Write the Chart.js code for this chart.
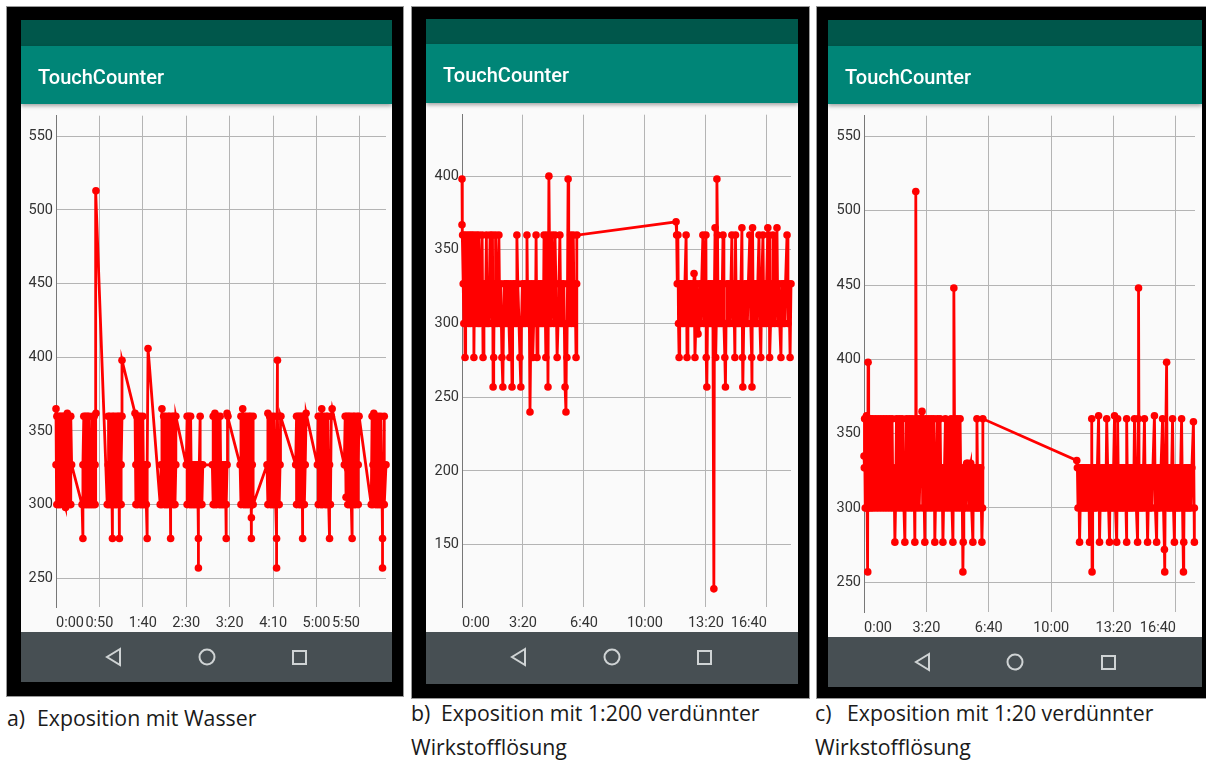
<!DOCTYPE html>
<html>
<head>
<meta charset="utf-8">
<script src="https://cdn.jsdelivr.net/npm/chart.js@4.4.1/dist/chart.umd.min.js"></script>
<style>
body { margin: 0; width: 1206px; height: 761px; background: #fff; position: relative; overflow: hidden; font-family: Roboto, sans-serif; }
.frame { position: absolute; background: #000; box-shadow: 0 0 0 1px #999; }
.status { position: absolute; background: #00574b; }
.appbar { position: absolute; background: #008577; color: #fff; z-index: 2; box-shadow: 0 2px 4px rgba(0,0,0,.35); }
.appbar span { position: absolute; left: 17px; top: 0; font: 500 20px/62px Roboto, sans-serif; }
.plot { position: absolute; background: #fafafa; }
.plot canvas { position: absolute; left: 0; top: 0; }
.nav { position: absolute; background: #474f53; }
.nav svg { position: absolute; left: 0; top: 0; }
.cap { position: absolute; font: 21.3px/34px "Open Sans", sans-serif; color: #1a1a1a; white-space: nowrap; }
.cap b { font-weight: 400; display: inline-block; width: 30px; }
</style>
</head>
<body>

<!-- a) -->
<div class="frame" style="left:7px;top:7px;width:396px;height:689px"></div>
<div class="status" style="left:21px;top:20px;width:371px;height:26px"></div>
<div class="appbar" style="left:21px;top:46px;width:371px;height:58px"><span>TouchCounter</span></div>
<div class="plot" style="left:21px;top:104px;width:371px;height:528px"><canvas id="chartA" width="371" height="528"></canvas></div>
<div class="nav" style="left:21px;top:632px;width:371px;height:50px"><svg width="371" height="50"><g fill="none" stroke="#cfd3d4" stroke-width="2"><polygon points="99,17 86,25 99,33"/><circle cx="186" cy="25" r="7.5"/><rect x="272" y="19" width="13" height="13"/></g></svg></div>
<div class="cap" style="left:7px;top:701px"><b>a)</b>Exposition mit Wasser</div>

<!-- b) -->
<div class="frame" style="left:412px;top:7px;width:397px;height:691px"></div>
<div class="status" style="left:426px;top:19px;width:372px;height:25px"></div>
<div class="appbar" style="left:426px;top:44px;width:372px;height:59px"><span>TouchCounter</span></div>
<div class="plot" style="left:426px;top:103px;width:372px;height:529px"><canvas id="chartB" width="372" height="529"></canvas></div>
<div class="nav" style="left:426px;top:632px;width:372px;height:52px"><svg width="372" height="52"><g fill="none" stroke="#cfd3d4" stroke-width="2"><polygon points="99,17 86,25 99,33"/><circle cx="186" cy="25" r="7.5"/><rect x="272" y="19" width="13" height="13"/></g></svg></div>
<div class="cap" style="left:411px;top:696px"><b>b)</b>Exposition mit 1:200 verdünnter<br>Wirkstofflösung</div>

<!-- c) -->
<div class="frame" style="left:817px;top:7px;width:392px;height:691px"></div>
<div class="status" style="left:828px;top:20px;width:374px;height:26px"></div>
<div class="appbar" style="left:828px;top:46px;width:374px;height:58px"><span>TouchCounter</span></div>
<div class="plot" style="left:828px;top:104px;width:374px;height:533px"><canvas id="chartC" width="374" height="533"></canvas></div>
<div class="nav" style="left:828px;top:637px;width:374px;height:50px"><svg width="374" height="50"><g fill="none" stroke="#cfd3d4" stroke-width="2"><polygon points="101,17 88,25 101,33"/><circle cx="187" cy="25" r="7.5"/><rect x="274" y="19" width="13" height="13"/></g></svg></div>
<div class="cap" style="left:815px;top:696px"><b style="width:32px">c)</b>Exposition mit 1:20 verdünnter<br>Wirkstofflösung</div>

<script>
// [seconds, value]
const touchA = [
  [0,365],[0,327],[1,300],[1,360],[2,327],[3,300],[3,360],[4,327],[5,360],[5,300],[6,327],[7,360],[8,300],[8,327],[9,360],[10,300],[11,298],[11,327],[12,360],[13,300],[13,362],[14,327],[15,300],[15,360],[16,327],[17,300],[17,360],[18,327],
  [30,300],[31,277],[31,327],[32,360],[33,300],[33,327],[34,360],[35,300],[35,327],[36,360],[37,300],[38,327],[38,360],[39,300],[40,327],[41,300],[41,327],[42,360],[43,300],[43,327],[44,360],[45,300],[45,327],[46,362],[46,513],
  [59,300],[60,327],[60,360],[61,300],[62,327],[62,360],[63,300],[64,327],[65,277],[65,360],[66,300],[67,327],[67,360],[68,300],[69,327],[70,360],[70,300],[71,327],[72,360],[73,277],[73,300],[74,327],[74,360],[75,300],[75,327],[76,360],[76,398],
  [91,362],[92,327],[92,300],[93,360],[94,327],[94,300],[95,360],[96,327],[97,300],[97,360],[98,327],[99,300],[100,327],[100,360],[101,300],[102,327],[103,300],[103,327],[104,300],[105,277],[105,327],[106,406],
  [120,300],[121,327],[122,365],[122,300],[123,327],[124,360],[125,300],[126,327],[126,360],[127,300],[128,327],[129,360],[129,300],[130,327],[131,360],[132,277],[132,300],[133,327],[134,360],[135,300],[135,327],[136,360],[137,300],[138,327],[138,360],
  [150,327],[151,360],[151,300],[152,327],[153,360],[154,300],[154,327],[155,360],[156,300],[157,327],[158,300],[159,327],[160,300],[161,327],[162,300],[163,327],[164,277],[164,257],[164,300],[165,327],[166,360],[166,300],[167,327],[168,300],[169,327],
  [180,327],[181,300],[181,360],[182,327],[183,300],[183,362],[184,327],[185,300],[186,360],[187,327],[188,300],[189,327],[189,360],[190,300],[191,327],[192,300],[193,327],[194,300],[195,327],[196,277],[196,300],[197,327],[197,362],[198,360],
  [212,327],[213,360],[213,300],[214,327],[215,365],[216,300],[216,327],[217,360],[218,300],[219,327],[219,360],[220,300],[221,327],[222,360],[222,300],[223,327],[224,360],[225,277],[225,291],[225,300],[226,327],[227,360],[227,300],
  [243,327],[244,362],[244,300],[245,327],[246,360],[247,300],[247,327],[248,360],[249,300],[250,327],[251,300],[251,360],[252,327],[253,300],[254,277],[254,257],[254,300],[255,398],[255,360],[256,327],[257,300],[258,327],[258,360],[259,360],
  [276,327],[277,360],[277,300],[278,327],[279,360],[280,300],[280,327],[281,360],[282,300],[283,327],[283,360],[284,277],[284,300],[285,327],[286,360],[286,300],[287,327],[288,362],
  [301,327],[302,360],[302,300],[303,327],[304,360],[305,300],[306,365],[306,327],[307,300],[308,360],[309,327],[310,300],[311,360],[311,327],[312,300],[313,327],[313,360],[314,300],[315,277],[315,327],[316,300],[317,360],[318,365],
  [332,327],[333,360],[334,305],[334,327],[335,360],[336,300],[337,327],[337,360],[338,300],[339,327],[339,360],[340,300],[341,277],[341,327],[342,360],[343,300],[344,327],[344,360],[345,300],[346,327],[347,360],[348,300],[348,327],[349,360],
  [363,300],[364,360],[365,327],[365,300],[366,362],[367,327],[368,300],[368,360],[369,327],[370,300],[371,327],[371,360],[372,300],[373,327],[374,360],[374,300],[375,327],[376,277],[376,257],[376,300],[377,327],[378,360],[378,300],[380,327]
]

const touchB = [
  [0,398],[0,367],[2,360],[4,327],[6,300],[8,360],[10,277],[12,327],[14,300],[16,360],[19,327],[22,300],[24,360],[26,327],[28,300],[31,360],[33,327],[36,300],[38,360],[39,277],[41,327],[44,300],[47,360],[50,327],[53,300],[55,360],[57,327],[59,300],[62,327],[66,360],[69,277],[72,327],[75,300],[78,327],[80,360],[82,300],[85,327],[88,300],[92,360],[95,327],[98,300],[100,360],[102,257],[104,277],[106,327],[109,300],[110,360],[112,327],[115,300],[118,327],[121,360],[124,300],[127,327],[131,277],[134,257],[136,300],[139,327],[142,300],[145,327],[148,300],[151,327],[154,300],[157,277],[160,327],[164,257],[166,300],[169,327],[172,300],[175,327],[178,300],[180,360],[183,327],[187,300],[190,277],[193,257],[195,300],[198,327],[201,300],[204,327],[207,300],[210,327],[213,360],[216,300],[220,327],[223,240],[226,300],[229,327],[232,277],[235,300],[238,327],[241,300],[243,360],[246,277],[249,300],[252,327],[255,300],[258,327],[261,300],[264,327],[267,300],[269,360],[272,327],[275,277],[277,300],[279,360],[282,257],[285,400],[288,327],[291,300],[295,360],[298,327],[301,300],[305,360],[308,327],[312,277],[315,300],[318,327],[321,360],[324,300],[327,327],[330,300],[334,327],[338,257],[341,240],[343,300],[344,277],[346,327],[348,398],[350,300],[353,327],[356,360],[359,300],[362,327],[365,360],[368,300],[371,327],[374,277],[376,327],[377,360],
  [702,369],[704,360],[706,327],[708,360],[710,300],[712,277],[714,327],[716,300],[719,327],[722,300],[725,327],[728,300],[731,327],[735,360],[738,277],[741,300],[744,327],[747,300],[750,327],[753,300],[756,327],[759,300],[761,334],[764,277],[767,300],[770,327],[774,293],[777,300],[780,327],[783,300],[786,327],[790,360],[793,300],[796,327],[800,360],[801,277],[803,257],[805,300],[808,327],[811,300],[814,327],[817,300],[820,327],[823,300],[826,120],[828,327],[830,365],[832,277],[834,300],[836,398],[838,360],[840,300],[843,327],[846,300],[849,327],[852,300],[856,360],[859,300],[862,277],[864,257],[866,300],[869,327],[872,300],[875,327],[878,300],[882,327],[885,360],[888,300],[891,327],[895,277],[897,360],[900,300],[903,327],[906,300],[909,327],[912,300],[915,327],[918,365],[920,277],[921,257],[924,300],[927,327],[930,300],[933,327],[936,300],[939,327],[944,360],[947,300],[950,277],[951,257],[953,365],[955,300],[958,327],[961,300],[964,327],[967,300],[970,327],[974,360],[977,300],[980,277],[983,327],[987,360],[990,300],[993,327],[996,300],[999,327],[1003,365],[1005,300],[1007,360],[1009,277],[1012,300],[1015,327],[1018,300],[1020,360],[1023,327],[1026,300],[1029,327],[1033,365],[1036,300],[1039,327],[1042,300],[1046,277],[1049,327],[1052,300],[1055,327],[1058,300],[1061,327],[1066,360],[1069,300],[1072,327],[1076,277],[1079,327]
]

const touchC = [
  [0,335],[1,327],[2,360],[4,300],[6,327],[8,362],[10,300],[11,300],[12,257],[13,398],[15,360],[17,300],[19,327],[21,360],[23,300],[25,327],[27,360],[30,300],[33,327],[36,360],[39,300],[42,327],[45,360],[48,300],[51,327],[54,360],[57,300],[60,327],[63,360],[66,300],[69,327],[72,360],[75,300],[78,327],[81,360],[84,300],[87,327],[90,360],[93,300],[96,327],[99,277],[101,300],[104,360],[107,327],[110,300],[113,360],[116,327],[119,300],[122,360],[125,327],[128,300],[131,277],[133,327],[136,360],[139,300],[142,327],[145,360],[148,300],[151,327],[154,360],[157,300],[160,327],[163,277],[165,360],[166,513],[168,300],[171,327],[174,360],[177,300],[180,327],[183,360],[186,365],[188,300],[191,327],[195,277],[197,360],[200,300],[203,327],[206,360],[209,300],[212,327],[215,360],[218,300],[221,327],[224,360],[227,277],[229,300],[232,327],[235,360],[238,300],[241,327],[244,360],[247,300],[250,327],[253,277],[255,300],[258,327],[261,360],[264,300],[267,327],[270,357],[273,300],[276,327],[279,360],[282,300],[285,277],[287,327],[288,448],[290,360],[293,300],[296,327],[299,360],[302,300],[305,327],[308,360],[311,300],[314,327],[317,257],[318,277],[320,300],[323,327],[326,300],[329,330],[333,330],[336,300],[339,327],[342,330],[345,300],[349,277],[351,327],[354,300],[357,327],[360,300],[362,360],[365,300],[368,327],[371,300],[374,327],[378,277],[380,300],[381,360],
  [682,332],[684,327],[686,300],[688,327],[691,277],[693,300],[696,327],[699,300],[702,327],[705,300],[708,327],[711,300],[714,327],[717,300],[720,327],[723,277],[725,300],[728,327],[730,360],[731,257],[733,300],[736,327],[739,300],[742,327],[745,300],[748,327],[752,362],[755,277],[757,300],[760,327],[763,300],[766,327],[769,300],[772,327],[775,300],[778,360],[781,327],[784,300],[787,277],[789,327],[792,300],[795,327],[798,300],[800,327],[803,362],[806,300],[810,277],[812,327],[813,360],[816,300],[819,327],[822,300],[825,327],[828,300],[831,327],[834,300],[837,327],[842,277],[842,360],[845,300],[848,327],[851,300],[854,327],[857,300],[860,327],[864,300],[867,360],[870,327],[873,300],[877,277],[879,360],[880,448],[882,300],[885,327],[888,300],[891,327],[894,300],[896,327],[899,360],[902,300],[905,327],[909,277],[911,300],[914,327],[917,300],[920,327],[923,300],[926,327],[931,362],[934,300],[938,277],[940,327],[943,300],[946,327],[949,300],[952,327],[957,360],[960,300],[963,272],[964,257],[966,327],[970,398],[972,300],[975,327],[978,300],[981,327],[984,300],[989,360],[992,300],[995,277],[997,327],[1000,300],[1003,327],[1006,300],[1009,327],[1012,300],[1015,327],[1018,360],[1021,300],[1024,257],[1025,277],[1027,327],[1030,300],[1033,327],[1036,300],[1039,327],[1042,300],[1045,327],[1048,300],[1051,327],[1056,358],[1059,277],[1059,300]
]

const xTicksA = [0, 50, 100, 150, 200, 250, 300, 350]
const xTicksBC = [0, 200, 400, 600, 800, 1000]
const yTicksA = [250, 300, 350, 400, 450, 500, 550]
const yTicksB = [150, 200, 250, 300, 350, 400]
const yTicksC = [250, 300, 350, 400, 450, 500, 550]

const fmtTime = v => Math.floor(v / 60) + ':' + String(v % 60).padStart(2, '0')

const tickFont = { family: 'Roboto', size: 14.5 }

const drawChart = (id, points, xTicks, yTicks, xMax, yMin, yMax, yWidth, rightPad) => {
  new Chart(document.getElementById(id), {
    type: 'line',
    data: {
      datasets: [
        {
          data: points.map(p => ({ x: p[0], y: p[1] })),
          borderColor: '#ff0000',
          backgroundColor: '#ff0000',
          pointBackgroundColor: '#ff0000',
          borderWidth: 2.8,
          pointRadius: 3.8,
          pointBorderWidth: 0,
          tension: 0,
          clip: false
        }
      ]
    },
    options: {
      responsive: false,
      animation: false,
      devicePixelRatio: 1,
      events: [],
      layout: { padding: { left: 0, right: rightPad, top: 7, bottom: 0 } },
      plugins: { legend: { display: false }, tooltip: { enabled: false } },
      scales: {
        x: {
          type: 'linear',
          min: 0,
          max: xMax,
          afterBuildTicks: s => { s.ticks = xTicks.map(v => ({ value: v })) },
          afterFit: s => { s.height = 25 },
          grid: { color: '#b4b4b4', drawTicks: false },
          border: { display: false },
          ticks: { align: 'inner', padding: 8, maxRotation: 0, autoSkip: false, color: '#333', font: tickFont, callback: v => fmtTime(v) }
        },
        y: {
          min: yMin,
          max: yMax,
          afterBuildTicks: s => { s.ticks = yTicks.map(v => ({ value: v })) },
          afterFit: s => { s.width = yWidth },
          grid: { color: '#b4b4b4', drawTicks: false },
          border: { display: true, color: '#777' },
          ticks: { padding: 3, color: '#333', font: tickFont, callback: v => v }
        }
      }
    }
  })
}

drawChart('chartA', touchA, xTicksA, yTicksA, 380, 230.5, 564, 35, 6)
drawChart('chartB', touchB, xTicksBC, yTicksB, 1079, 107.7, 441.7, 36, 7)
drawChart('chartC', touchC, xTicksBC, yTicksC, 1061, 230, 564, 36, 7)
</script>
</body>
</html>
